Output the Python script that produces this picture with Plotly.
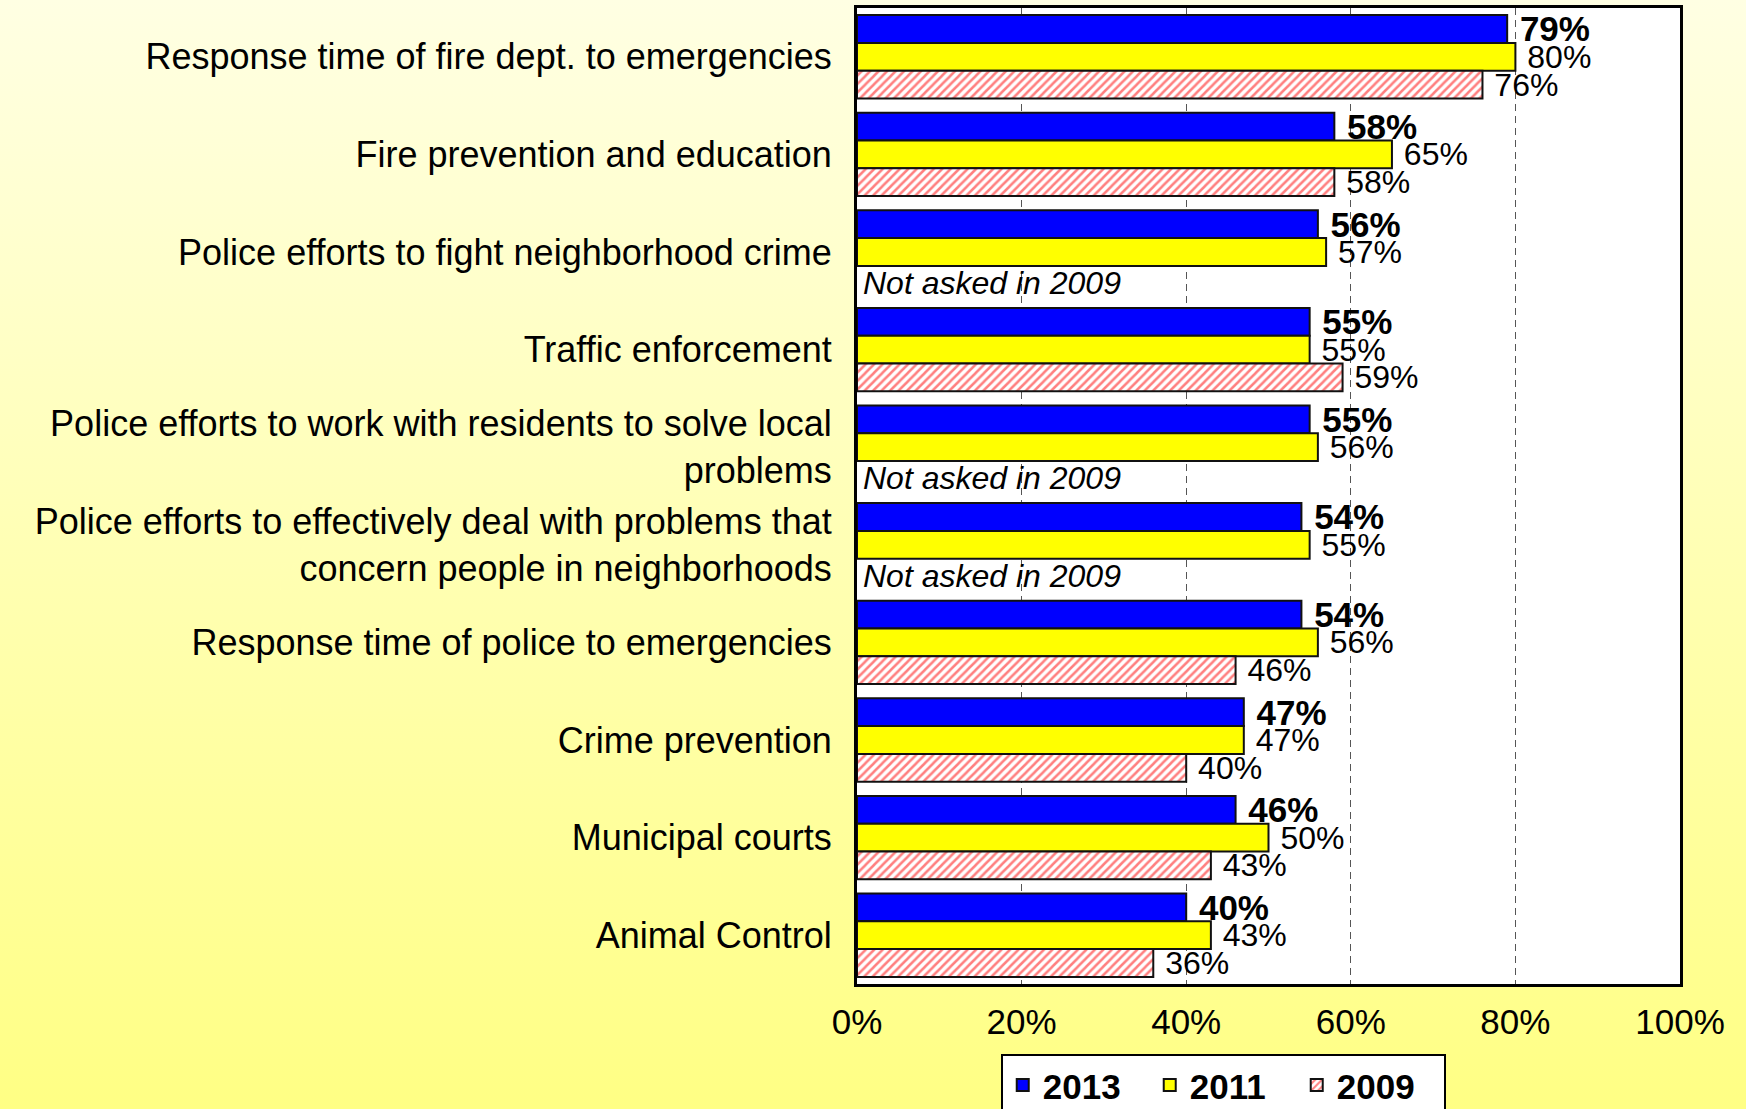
import base64
import plotly.graph_objects as go

# Survey items, top to bottom
categories = [
    "Response time of fire dept. to emergencies",
    "Fire prevention and education",
    "Police efforts to fight neighborhood crime",
    "Traffic enforcement",
    "Police efforts to work with residents to solve local<br>problems",
    "Police efforts to effectively deal with problems that<br>concern people in neighborhoods",
    "Response time of police to emergencies",
    "Crime prevention",
    "Municipal courts",
    "Animal Control",
]

# Percent satisfied by survey year (None = item not asked that year)
pct_2013 = [79, 58, 56, 55, 55, 54, 54, 47, 46, 40]
pct_2011 = [80, 65, 57, 55, 56, 55, 56, 47, 50, 43]
pct_2009 = [76, 58, None, 59, None, None, 46, 40, 43, 36]

x_ticks = [0, 20, 40, 60, 80, 100]
not_asked_note = "Not asked in 2009"

FONT = "Liberation Sans, Arial, Helvetica, sans-serif"
W, H = 1746, 1109
MARGIN = dict(l=857, r=66, t=8, b=125)
plot_w = W - MARGIN["l"] - MARGIN["r"]
plot_h = H - MARGIN["t"] - MARGIN["b"]
BARGAP = 0.145
bar_thickness = plot_h / len(categories) * (1 - BARGAP) / 3

PAD = "\u00a0"


def value_labels(values):
    return [PAD + f"{v}%" if v is not None else "" for v in values]


fig = go.Figure()

bar_line = dict(color="#111111", width=2)

fig.add_trace(go.Bar(
    name="2013", y=categories, x=pct_2013, orientation="h",
    marker=dict(color="#0000FF", line=bar_line),
    text=value_labels(pct_2013), textposition="outside",
    textfont=dict(family=FONT, size=35, color="black", weight="bold"),
))
fig.add_trace(go.Bar(
    name="2011", y=categories, x=pct_2011, orientation="h",
    marker=dict(color="#FFFF00", line=bar_line),
    text=value_labels(pct_2011), textposition="outside",
    textfont=dict(family=FONT, size=32, color="black"),
))
fig.add_trace(go.Bar(
    name="2009", y=categories, x=pct_2009, orientation="h",
    marker=dict(
        color="white", line=bar_line,
        pattern=dict(shape="/", fgcolor="#FF0000", bgcolor="white",
                     size=6, solidity=0.42),
    ),
    text=value_labels(pct_2009), textposition="outside",
    textfont=dict(family=FONT, size=32, color="black"),
))
fig.update_traces(constraintext="none", cliponaxis=False, hoverinfo="x+y")

# Note in the 2009 slot for items that were not asked that year
for cat, v in zip(categories, pct_2009):
    if v is None:
        fig.add_annotation(
            x=0, y=cat, xref="x", yref="y", text=f"<i>{not_asked_note}</i>",
            showarrow=False, xanchor="left", yanchor="middle",
            xshift=4, yshift=-bar_thickness - 3,
            font=dict(family=FONT, size=32, color="black"),
        )

# Vertical gradient behind the page
svg = (
    '<svg xmlns="http://www.w3.org/2000/svg" width="100" height="100" '
    'preserveAspectRatio="none">'
    '<defs><linearGradient id="g" x1="0" y1="0" x2="0" y2="1">'
    '<stop offset="0" stop-color="#FFFFE3"/>'
    '<stop offset="1" stop-color="#FFFF84"/>'
    '</linearGradient></defs>'
    '<rect width="100" height="100" fill="url(#g)"/></svg>'
)
svg_uri = "data:image/svg+xml;base64," + base64.b64encode(svg.encode()).decode()
fig.add_layout_image(
    source=svg_uri, xref="paper", yref="paper",
    x=-MARGIN["l"] / plot_w, y=1 + MARGIN["t"] / plot_h,
    sizex=W / plot_w, sizey=H / plot_h,
    xanchor="left", yanchor="top", sizing="stretch", layer="below",
)
# White plotting area on top of the gradient
fig.add_shape(
    type="rect", xref="x domain", yref="y domain", x0=0, x1=1, y0=0, y1=1,
    fillcolor="white", line=dict(width=0), layer="below",
)

fig.update_layout(
    width=W, height=H,
    margin=dict(**MARGIN, autoexpand=False),
    paper_bgcolor="#FFFFB8", plot_bgcolor="white",
    barmode="group", bargap=BARGAP, bargroupgap=0,
    font=dict(family=FONT, color="black"),
    showlegend=True,
    legend=dict(
        orientation="h", x=0.445, xanchor="center", y=-0.0715, yanchor="top",
        bgcolor="white", bordercolor="black", borderwidth=2,
        font=dict(family=FONT, size=35, color="black", weight="bold"),
        traceorder="normal", itemwidth=30, entrywidth=102,
    ),
    xaxis=dict(
        range=[0, 100], tickvals=x_ticks, ticktext=[f"{t}%" for t in x_ticks],
        showgrid=True, gridcolor="#555555", gridwidth=1, griddash="7px,5px",
        zeroline=False, showline=True, linecolor="black", linewidth=3, mirror=True,
        ticks="", tickfont=dict(family=FONT, size=35, color="black"),
        ticklabelstandoff=5,
    ),
    yaxis=dict(
        categoryorder="array", categoryarray=categories, autorange="reversed",
        showgrid=False, zeroline=False, showline=True, linecolor="black",
        linewidth=3, mirror=True, ticks="",
        tickfont=dict(family=FONT, size=36, color="black"),
        ticklabelstandoff=15,
    ),
)

fig.write_html("out.html")
